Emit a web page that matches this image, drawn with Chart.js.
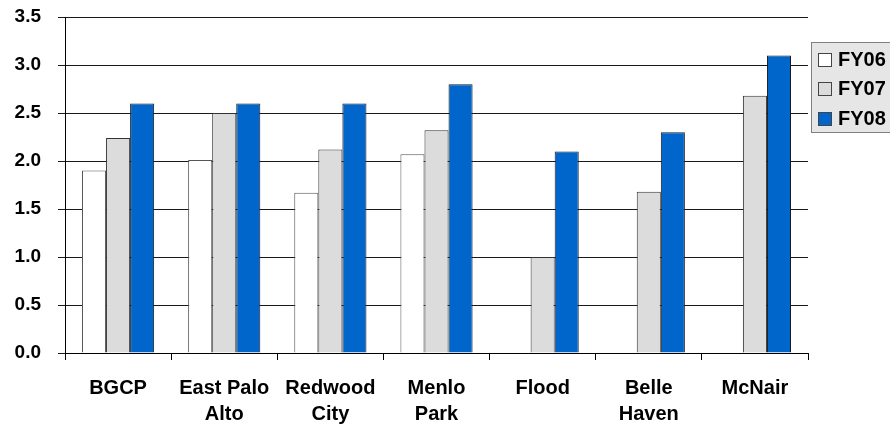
<!DOCTYPE html>
<html>
<head>
<meta charset="utf-8">
<script src="https://cdn.jsdelivr.net/npm/chart.js@4.4.1/dist/chart.umd.min.js"></script>
<style>
  html, body { margin: 0; padding: 0; background: #ffffff; }
  #wrap { width: 890px; height: 424px; position: relative; }
</style>
</head>
<body>
<div id="wrap"><canvas id="c" width="890" height="424"></canvas></div>
<script>
// Sites along the x axis (two-line labels as arrays)
const categories = [
  "BGCP",
  ["East Palo", "Alto"],
  ["Redwood", "City"],
  ["Menlo", "Park"],
  "Flood",
  ["Belle", "Haven"],
  "McNair"
];

// Yearly values per site; null where a year has no bar
const fy06 = [1.90, 2.01, 1.67, 2.07, null, null, null];
const fy07 = [2.24, 2.50, 2.12, 2.32, 1.00, 1.68, 2.68];
const fy08 = [2.60, 2.60, 2.60, 2.80, 2.10, 2.30, 3.10];

const seriesNames = ["FY06", "FY07", "FY08"];
const yTicks = [0, 0.5, 1.0, 1.5, 2.0, 2.5, 3.0, 3.5];

const fills = ["#ffffff", "#dcdcdc", "#0066cc"];
const edges = ["#555555", "#333333", "#1a1a1a"];
const FONT = "'Liberation Sans', Arial, sans-serif";

// Legend panel drawn at the right edge, partly clipped by the canvas
const boxLegend = {
  id: "boxLegend",
  afterDraw(chart) {
    const ctx = chart.ctx;
    const x0 = 811.5, y0 = 42.5, w = 90, h = 90;
    ctx.save();
    ctx.fillStyle = "#e6e6e6";
    ctx.strokeStyle = "#808080";
    ctx.lineWidth = 1;
    ctx.fillRect(x0, y0, w, h);
    ctx.strokeRect(x0, y0, w, h);
    ctx.font = "bold 20px " + FONT;
    ctx.textBaseline = "middle";
    chart.data.datasets.forEach((ds, i) => {
      const cy = 59 + i * 29.5;
      const top = Math.round(cy - 6.5) + 0.5;
      ctx.fillStyle = ds.backgroundColor;
      ctx.fillRect(818.5, top, 13, 13);
      ctx.strokeStyle = "#444444";
      ctx.strokeRect(818.5, top, 13, 13);
      ctx.fillStyle = "#000000";
      ctx.fillText(ds.label, 838, cy + 1);
    });
    ctx.restore();
  }
};

new Chart(document.getElementById("c"), {
  type: "bar",
  data: {
    labels: categories,
    datasets: [fy06, fy07, fy08].map((vals, i) => ({
      label: seriesNames[i],
      data: vals,
      backgroundColor: fills[i],
      borderColor: edges[i],
      borderWidth: 1,
      barPercentage: 1.0,
      categoryPercentage: 0.68
    }))
  },
  options: {
    responsive: false,
    animation: false,
    devicePixelRatio: 1,
    layout: { padding: { top: 17, right: 82, bottom: 0, left: 0 } },
    plugins: {
      legend: { display: false },
      tooltip: { enabled: false }
    },
    scales: {
      x: {
        offset: true,
        grid: {
          offset: true,
          drawOnChartArea: false,
          drawTicks: true,
          tickLength: 7,
          color: "#000000"
        },
        border: { color: "#000000", width: 1 },
        ticks: {
          color: "#000000",
          padding: 15,
          maxRotation: 0,
          autoSkip: false,
          font: { family: FONT, size: 20, weight: "bold", lineHeight: 1.33 }
        },
        afterFit(scale) {
          scale.height = 71;
          scale.paddingLeft = 0;
          scale.paddingRight = 0;
        }
      },
      y: {
        min: 0,
        max: 3.5,
        afterBuildTicks(scale) {
          scale.ticks = yTicks.map(v => ({ value: v }));
        },
        grid: {
          color: "#1a1a1a",
          lineWidth: 1,
          drawTicks: true,
          tickLength: 7
        },
        border: { color: "#000000", width: 1 },
        ticks: {
          color: "#000000",
          padding: 17,
          callback: v => Number(v).toFixed(1),
          font: { family: FONT, size: 19, weight: "bold" }
        },
        afterFit(scale) {
          scale.width = 65;
          scale.paddingTop = 0;
          scale.paddingBottom = 0;
        }
      }
    }
  },
  plugins: [boxLegend]
});
</script>
</body>
</html>
